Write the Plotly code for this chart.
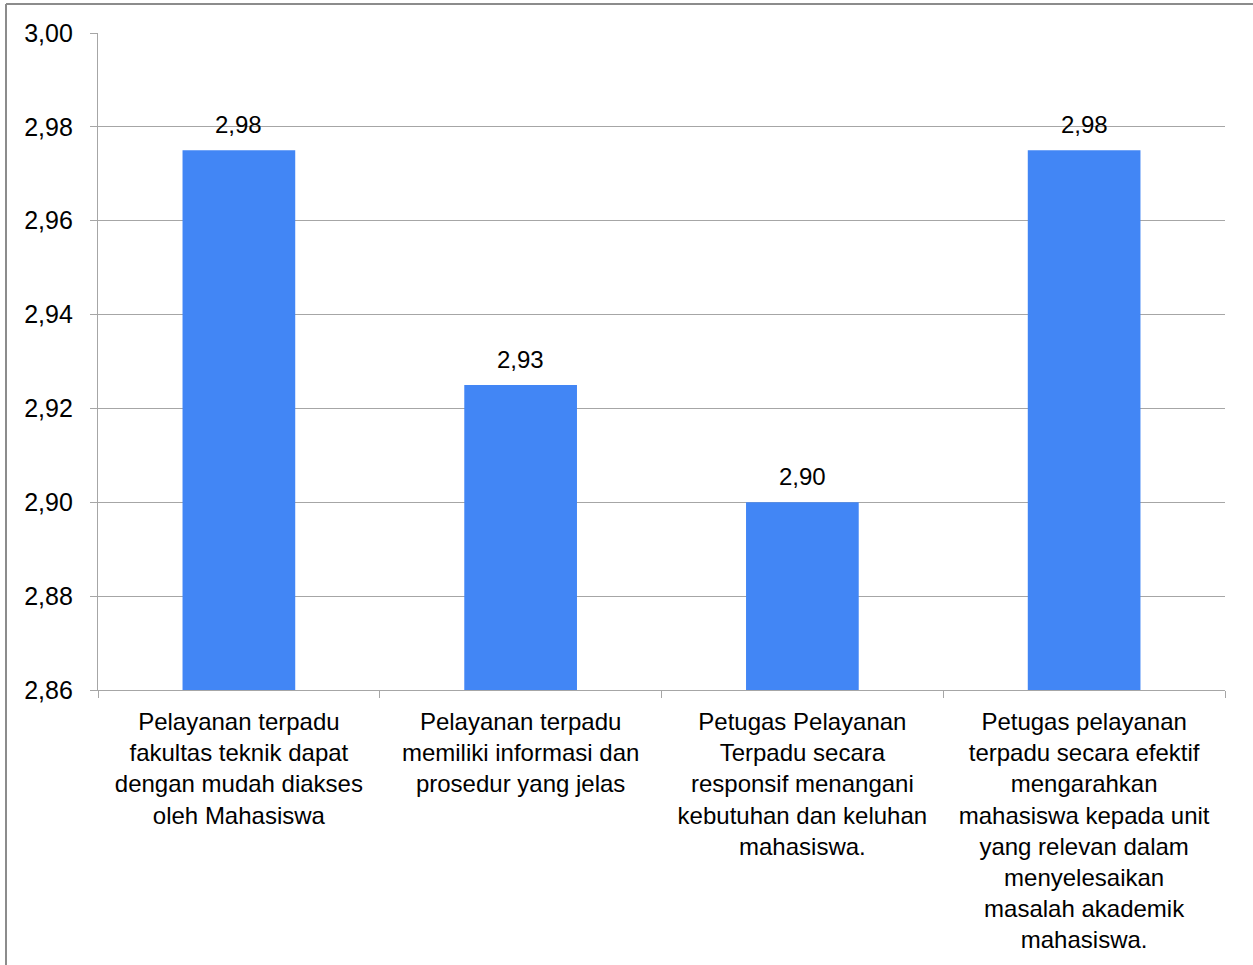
import plotly.graph_objects as go
from decimal import Decimal, ROUND_HALF_UP

# Survey items (category labels, wrapped as shown on the axis)
categories = [
    "Pelayanan terpadu<br>fakultas teknik dapat<br>dengan mudah diakses<br>oleh Mahasiswa",
    "Pelayanan terpadu<br>memiliki informasi dan<br>prosedur yang jelas",
    "Petugas Pelayanan<br>Terpadu secara<br>responsif menangani<br>kebutuhan dan keluhan<br>mahasiswa.",
    "Petugas pelayanan<br>terpadu secara efektif<br>mengarahkan<br>mahasiswa kepada unit<br>yang relevan dalam<br>menyelesaikan<br>masalah akademik<br>mahasiswa.",
]
# Mean scores per item
scores = [2.975, 2.925, 2.90, 2.975]

y_ticks = [2.86, 2.88, 2.90, 2.92, 2.94, 2.96, 2.98, 3.00]


def fmt(v):
    # two decimals, half-up rounding, comma as decimal separator
    d = Decimal(str(v)).quantize(Decimal("0.01"), rounding=ROUND_HALF_UP)
    return str(d).replace(".", ",")


FONT = "Liberation Sans, Arial, sans-serif"
GRID = "#a6a6a6"
BAR = "#4286f5"

fig = go.Figure()
fig.add_trace(go.Bar(x=categories, y=scores, marker=dict(color=BAR, line=dict(width=0)),
                     width=0.4, hoverinfo="skip"))

for c, v in zip(categories, scores):
    fig.add_annotation(x=c, y=v, text=fmt(v), showarrow=False, yanchor="bottom",
                       yshift=10, font=dict(family=FONT, size=24, color="#000000"))

W, H = 1253, 965
L, R, T, B = 98, 28, 33, 275
pw, ph = W - L - R, H - T - B

fig.update_layout(
    width=W, height=H,
    margin=dict(l=L, r=R, t=T, b=B, pad=0),
    paper_bgcolor="white", plot_bgcolor="white",
    showlegend=False,
    bargap=0.6,
    font=dict(family=FONT, size=24, color="#000000"),
    xaxis=dict(
        type="category",
        showline=True, linecolor=GRID, linewidth=1.3,
        ticks="outside", ticklen=7, tickcolor=GRID, tickwidth=1.3,
        tickson="boundaries", showgrid=False,
        tickfont=dict(family=FONT, size=24, color="#000000"),
        tickangle=0, ticklabelstandoff=10,
    ),
    yaxis=dict(
        range=[2.86, 3.00], tickmode="array", tickvals=y_ticks,
        ticktext=[fmt(t) for t in y_ticks],
        showline=True, linecolor=GRID, linewidth=1.3,
        ticks="outside", ticklen=7, tickcolor=GRID, tickwidth=1.3,
        showgrid=True, gridcolor=GRID, gridwidth=1.3,
        zeroline=False, ticklabelstandoff=12,
        tickfont=dict(family=FONT, size=25, color="#000000"),
    ),
)

# Outer chart frame (left and top edges visible on the page)
x0 = (6 - L) / pw
y_top = (H - B - 4) / ph
fig.add_shape(type="line", xref="paper", yref="paper", x0=x0, x1=x0,
              y0=-(B + 10) / ph, y1=y_top, line=dict(color="#8c8c8c", width=2))
fig.add_shape(type="line", xref="paper", yref="paper", x0=x0, x1=(W - L + 10) / pw,
              y0=y_top, y1=y_top, line=dict(color="#8c8c8c", width=2))

fig.write_html("out.html")
